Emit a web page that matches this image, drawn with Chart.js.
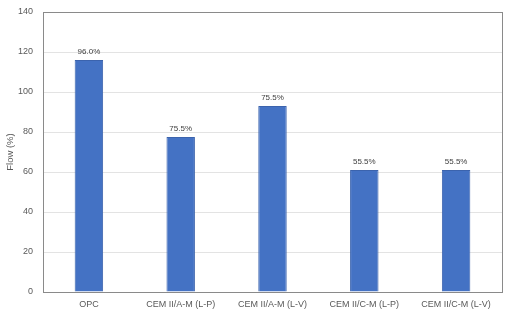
<!DOCTYPE html>
<html>
<head>
<meta charset="utf-8">
<script src="https://cdn.jsdelivr.net/npm/chart.js@4.4.0/dist/chart.umd.min.js"></script>
<style>
  html, body { margin: 0; padding: 0; background: #fff; }
  #wrap { width: 530px; height: 318px; }
</style>
</head>
<body>
<div id="wrap"><canvas id="chartFlow" width="530" height="318"></canvas></div>
<script>
// dados
var categorias = ['OPC', 'CEM II/A-M (L-P)', 'CEM II/A-M (L-V)', 'CEM II/C-M (L-P)', 'CEM II/C-M (L-V)'];
var fluxo      = [116, 77.5, 93, 61, 61];
var rotulos    = ['96.0%', '75.5%', '75.5%', '55.5%', '55.5%'];
var yTicks     = [0, 20, 40, 60, 80, 100, 120, 140];

/* ---- moldura + rótulos das barras ---- */
var extras = {
    id: 'extras',
    afterDatasetsDraw: function(chart) {
        var ctx = chart.ctx, a = chart.chartArea;
        ctx.save();
        ctx.strokeStyle = '#8a8a8a';
        ctx.lineWidth = 1;
        ctx.strokeRect(Math.round(a.left) + 0.5, Math.round(a.top) + 0.5,
                       Math.round(a.right - a.left), Math.round(a.bottom - a.top));
        ctx.fillStyle = '#404040';
        ctx.font = '8px "Liberation Sans", Arial, sans-serif';
        ctx.textAlign = 'center';
        ctx.textBaseline = 'bottom';
        chart.getDatasetMeta(0).data.forEach(function(bar, i) {
            ctx.fillText(rotulos[i], bar.x, bar.y - 4);
        });
        ctx.restore();
    }
};

var FONTE = '"Liberation Sans", Arial, sans-serif';

new Chart(document.getElementById('chartFlow'), {
    type: 'bar',
    data: {
        labels: categorias,
        datasets: [{
            data: fluxo,
            backgroundColor: '#4472C4',
            borderColor: '#3b63ad',
            borderWidth: 1,
            categoryPercentage: 1,
            barPercentage: 0.31
        }]
    },
    options: {
        responsive: false, animation: false,
        layout: { padding: { top: 12, right: 28, left: 0, bottom: 0 } },
        plugins: { legend: { display: false }, tooltip: { enabled: false } },
        scales: {
            x: {
                grid: { display: false, drawTicks: false },
                border: { display: false },
                ticks: { color: '#595959', font: { size: 9, family: FONTE }, padding: 7, maxRotation: 0, autoSkip: false },
                afterFit: function(s) { s.height = 26; }
            },
            y: {
                min: 0, max: 140,
                afterBuildTicks: function(s) { s.ticks = yTicks.map(function(v) { return { value: v }; }); },
                grid: { color: '#e3e3e3', drawTicks: false },
                border: { display: false },
                ticks: { color: '#595959', font: { size: 9, family: FONTE }, padding: 10 },
                title: { display: true, text: 'Flow (%)', color: '#595959', font: { size: 9.5, family: FONTE }, padding: { top: 5, bottom: 0 } },
                afterFit: function(s) { s.width = 43; s.paddingTop = 0; }
            }
        }
    },
    plugins: [extras]
});
</script>
</body>
</html>
